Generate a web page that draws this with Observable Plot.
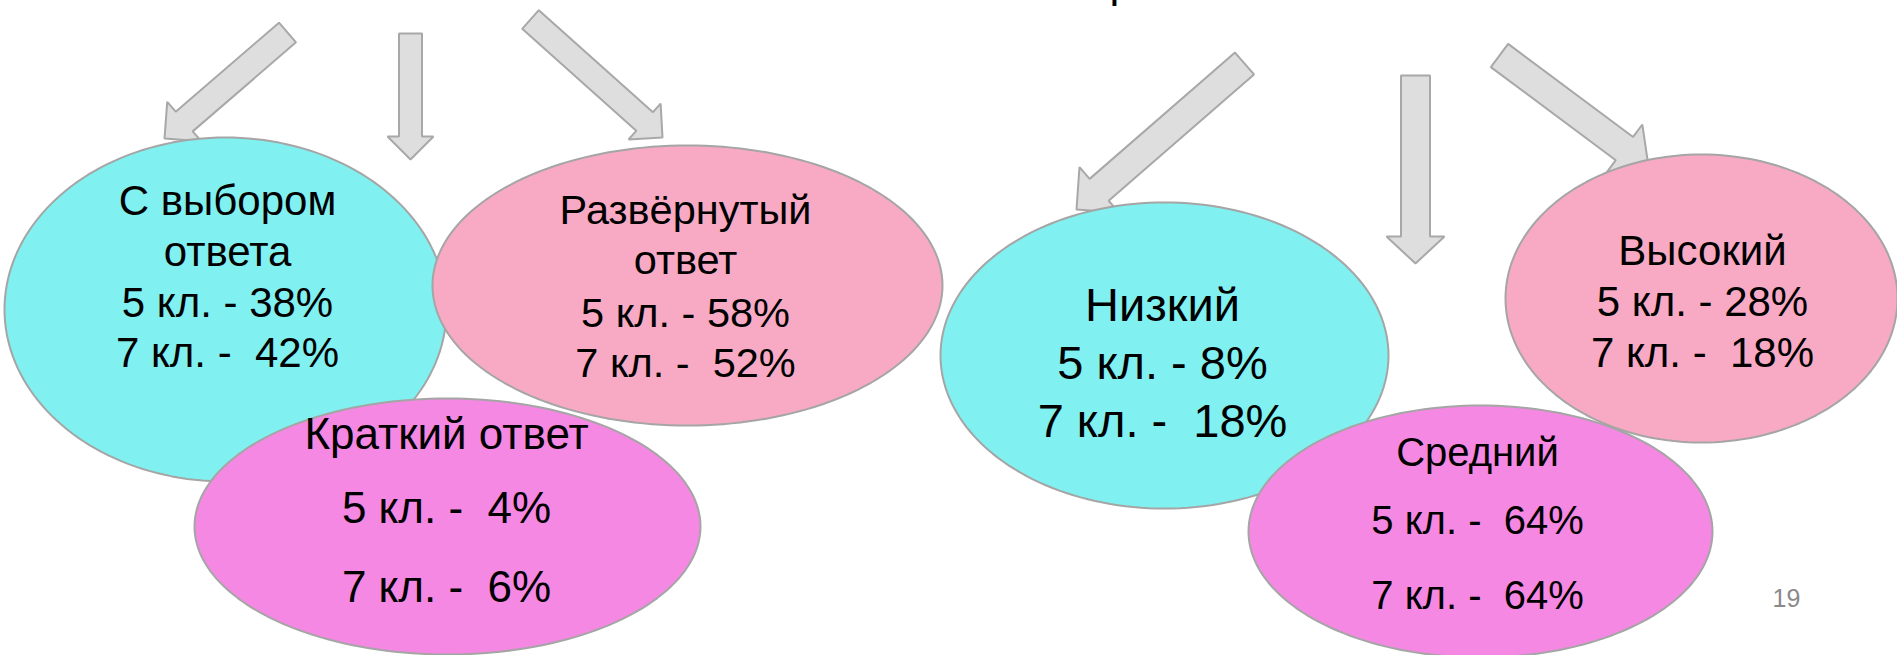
<!DOCTYPE html>
<html><head><meta charset="utf-8">
<script src="https://cdn.jsdelivr.net/npm/d3@7"></script>
<script src="https://cdn.jsdelivr.net/npm/@observablehq/plot@0.6"></script>
<style>
html,body{margin:0;padding:0;background:#fff;}
#chart svg{display:block;}
#chart svg text{white-space:pre;}
</style></head><body><div id="chart"></div>
<script>
const W = 1897, H = 655;
// ---- data ----
const categories = ["С выбором ответа","Развёрнутый ответ","Краткий ответ","Низкий","Высокий","Средний"];
const titleLines = [["С выбором","ответа"],["Развёрнутый","ответ"],["Краткий ответ"],["Низкий"],["Высокий"],["Средний"]];
const grade5 = [38, 58, 4, 8, 28, 64];
const grade7 = [42, 52, 6, 18, 18, 64];
const gradeNames = ["5 кл.", "7 кл."];
const pageNumber = "19";
const titleFragment = "р";

// ---- layout (positions / sizes / styles) ----
const cyan = "#80f0f1", pink = "#f8aac4", magenta = "#f588e2";
const shapes = [
  {cx:225, cy:309, rx:221, ry:172, fill:cyan,    tx:227,  base:[214,265,316,366], fs:42,   gap5:" ", gap7:"  "},
  {cx:687, cy:285, rx:255, ry:140, fill:pink,    tx:685,  base:[223,273,326,376], fs:41.5, gap5:" ", gap7:"  "},
  {cx:447, cy:526, rx:253, ry:128, fill:magenta, tx:446,  base:[448,522,601],     fs:44,   gap5:"  ", gap7:"  "},
  {cx:1164,cy:355, rx:224, ry:153, fill:cyan,    tx:1162, base:[320,378,436],     fs:47,   gap5:" ", gap7:"  "},
  {cx:1701,cy:298, rx:196, ry:144, fill:pink,    tx:1702, base:[264,315,366],     fs:42,   gap5:" ", gap7:"  "},
  {cx:1480,cy:531, rx:232, ry:126, fill:magenta, tx:1477, base:[465,533,608],     fs:40,   gap5:"  ", gap7:"  "}
];
const drawOrder = [0, 2, 1, 3, 4, 5];
const arrows = [
  {tail:[287,32],  tip:[164,138], sw:26, hw:52, hl:26},
  {tail:[410,33],  tip:[410,159], sw:23, hw:46, hl:23},
  {tail:[530,19],  tip:[662,137], sw:25, hw:48, hl:24},
  {tail:[1244,63], tip:[1076,209],sw:29, hw:60, hl:30},
  {tail:[1415,75], tip:[1415,263],sw:29, hw:58, hl:27},
  {tail:[1499,55], tip:[1648,166],sw:29, hw:60, hl:30}
];
const FONT = "'Liberation Sans', Arial, sans-serif";

function ellipsePts(s, i) {
  const n = 180, pts = [];
  for (let k = 0; k < n; k++) {
    const t = 2 * Math.PI * k / n;
    pts.push({id: i, x: s.cx + s.rx * Math.cos(t), y: s.cy + s.ry * Math.sin(t)});
  }
  return pts;
}
function arrowPts(a, i) {
  const [x0,y0] = a.tail, [x1,y1] = a.tip;
  const L = Math.hypot(x1-x0, y1-y0), ux = (x1-x0)/L, uy = (y1-y0)/L, nx = -uy, ny = ux;
  const bx = x1 - ux*a.hl, by = y1 - uy*a.hl;
  const P = (x,y) => ({id:i, x, y});
  return [
    P(x0 + nx*a.sw/2, y0 + ny*a.sw/2),
    P(bx + nx*a.sw/2, by + ny*a.sw/2),
    P(bx + nx*a.hw/2, by + ny*a.hw/2),
    P(x1, y1),
    P(bx - nx*a.hw/2, by - ny*a.hw/2),
    P(bx - nx*a.sw/2, by - ny*a.sw/2),
    P(x0 - nx*a.sw/2, y0 - ny*a.sw/2)
  ];
}

const marks = [];
arrows.forEach((a, i) => marks.push(Plot.line(arrowPts(a, i), {
  x:"x", y:"y", curve:"linear-closed", fill:"#dedede", stroke:"#a8a8a8", strokeWidth:2, strokeLinejoin:"miter"
})));
drawOrder.forEach(i => {
  const s = shapes[i];
  marks.push(Plot.line(ellipsePts(s, i), {x:"x", y:"y", curve:"linear-closed", fill:s.fill, stroke:"#a5a5a5", strokeWidth:2}));
  const lines = [...titleLines[i],
    `${gradeNames[0]} -${s.gap5}${grade5[i]}%`,
    `${gradeNames[1]} -${s.gap7}${grade7[i]}%`];
  const rows = lines.map((t, k) => ({text:t, x:s.tx, y:s.base[k]}));
  marks.push(Plot.text(rows, {x:"x", y:"y", text:"text", fontSize:s.fs, fontFamily:FONT, fill:"#000",
    textAnchor:"middle", lineAnchor:"bottom"}));
});
marks.push(Plot.text([{t:pageNumber, x:1786, y:606}], {x:"x", y:"y", text:"t", fontSize:25, fontFamily:FONT, fill:"#8a8a8a", textAnchor:"middle", lineAnchor:"bottom"}));
marks.push(Plot.text([{t:titleFragment, x:1109, y:-4}], {x:"x", y:"y", text:"t", fontSize:44, fontFamily:FONT, fill:"#000", textAnchor:"start", lineAnchor:"bottom"}));

const chart = Plot.plot({
  width: W, height: H, margin: 0,
  x: {type:"linear", domain:[0, W], range:[0, W], axis:null},
  y: {type:"linear", domain:[0, H], range:[0, H], axis:null},
  style: {background:"#fff", fontFamily: FONT},
  marks
});
document.getElementById("chart").appendChild(chart);
</script></body></html>
